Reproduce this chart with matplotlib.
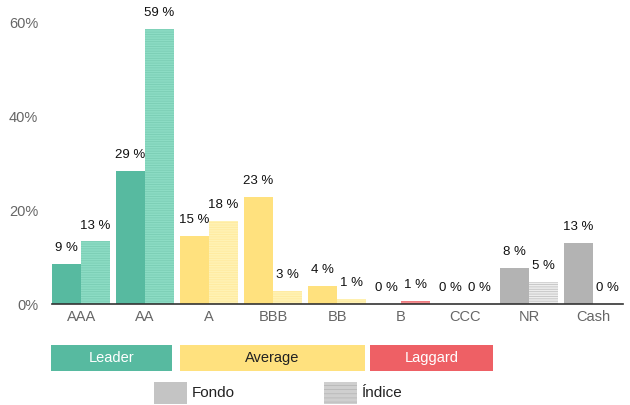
import matplotlib.pyplot as plt
from matplotlib.patches import Rectangle
import numpy as np

plt.rcParams['font.family'] = ['Liberation Sans', 'DejaVu Sans']
plt.rcParams['hatch.linewidth'] = 0.6

# Data
categories = ["AAA", "AA", "A", "BBB", "BB", "B", "CCC", "NR", "Cash"]
fondo = [9, 29, 15, 23, 4, 0, 0, 8, 13]
indice = [13, 59, 18, 3, 1, 1, 0, 5, 0]
fondo_plot = [8.6, 28.4, 14.4, 22.7, 3.9, 0, 0, 7.7, 13.0]
indice_plot = [13.3, 58.6, 17.7, 2.8, 1.1, 0.6, 0, 4.7, 0]
groups = ["leader", "leader", "average", "average", "average",
          "laggard", "laggard", "other", "other"]

fund_colors = {"leader": "#57BAA0", "average": "#FFE17E",
               "laggard": "#EE6065", "other": "#B3B3B3"}
index_colors = {"leader": "#8CDCC4", "average": "#FFF2B4",
                "laggard": "#F28D90", "other": "#EDEDED"}
hatch_colors = {"leader": "#7ACDB4", "average": "#FFEA9E",
                "laggard": "#EE7075", "other": "#C2C2C2"}

fig = plt.figure(figsize=(6.3, 4.05), dpi=100)
ax = fig.add_axes([52 / 630, 101 / 405, 571 / 630, 300.8 / 405])

x = np.arange(len(categories))
w = 29 / 64

for i in range(len(categories)):
    g = groups[i]
    ax.bar(x[i] - w / 2, fondo_plot[i], width=w, color=fund_colors[g],
           edgecolor=fund_colors[g], linewidth=0)
    ax.bar(x[i] + w / 2, indice_plot[i], width=w, color=index_colors[g],
           edgecolor=hatch_colors[g], linewidth=0, hatch="-------")
    ax.text(x[i] - w / 2, fondo_plot[i] + 2.1, f"{fondo[i]} %",
            ha="center", va="bottom", fontsize=9.5, color="#111111")
    ax.text(x[i] + w / 2, indice_plot[i] + 2.1, f"{indice[i]} %",
            ha="center", va="bottom", fontsize=9.5, color="#111111")

ax.set_xlim(-0.455, 8.47)
ax.set_ylim(0, 64)
ax.set_xticks(x)
ax.set_xticklabels(categories, fontsize=10.5, color="#666666")
ax.set_yticks([0, 20, 40, 60])
ax.set_yticklabels(["0%", "20%", "40%", "60%"], fontsize=10.5, color="#666666")
ax.tick_params(length=0, pad=4)
ax.tick_params(axis="y", pad=10)
for s in ["top", "right", "left"]:
    ax.spines[s].set_visible(False)
ax.spines["bottom"].set_color("#333333")
ax.spines["bottom"].set_linewidth(1.2)

# legend boxes
def fig_rect(x0, y0, x1, y1, **kw):
    r = Rectangle((x0 / 630, 1 - y1 / 405), (x1 - x0) / 630, (y1 - y0) / 405,
                  transform=fig.transFigure, **kw)
    fig.patches.append(r)

boxes = [("Leader", 51, 172, "#57BAA0", "white"),
         ("Average", 180, 365, "#FFE17E", "#222222"),
         ("Laggard", 370, 493, "#EE6065", "white")]
for label, x0, x1, c, tc in boxes:
    fig_rect(x0, 345, x1, 371, facecolor=c, linewidth=0)
    fig.text((x0 + x1) / 2 / 630, 1 - 358 / 405, label, ha="center",
             va="center", fontsize=10.5, color=tc)

fig_rect(154, 382, 187, 404, facecolor="#C4C4C4", linewidth=0)
fig.text(192 / 630, 1 - 393 / 405, "Fondo", ha="left", va="center",
         fontsize=11, color="#222222")
fig_rect(324, 382, 357, 404, facecolor="#CFCFCF", edgecolor="#B8B8B8",
         linewidth=0, hatch="----")
fig.text(362 / 630, 1 - 393 / 405, "Índice", ha="left", va="center",
         fontsize=11, color="#222222")

fig.savefig("out.png", dpi=100)
